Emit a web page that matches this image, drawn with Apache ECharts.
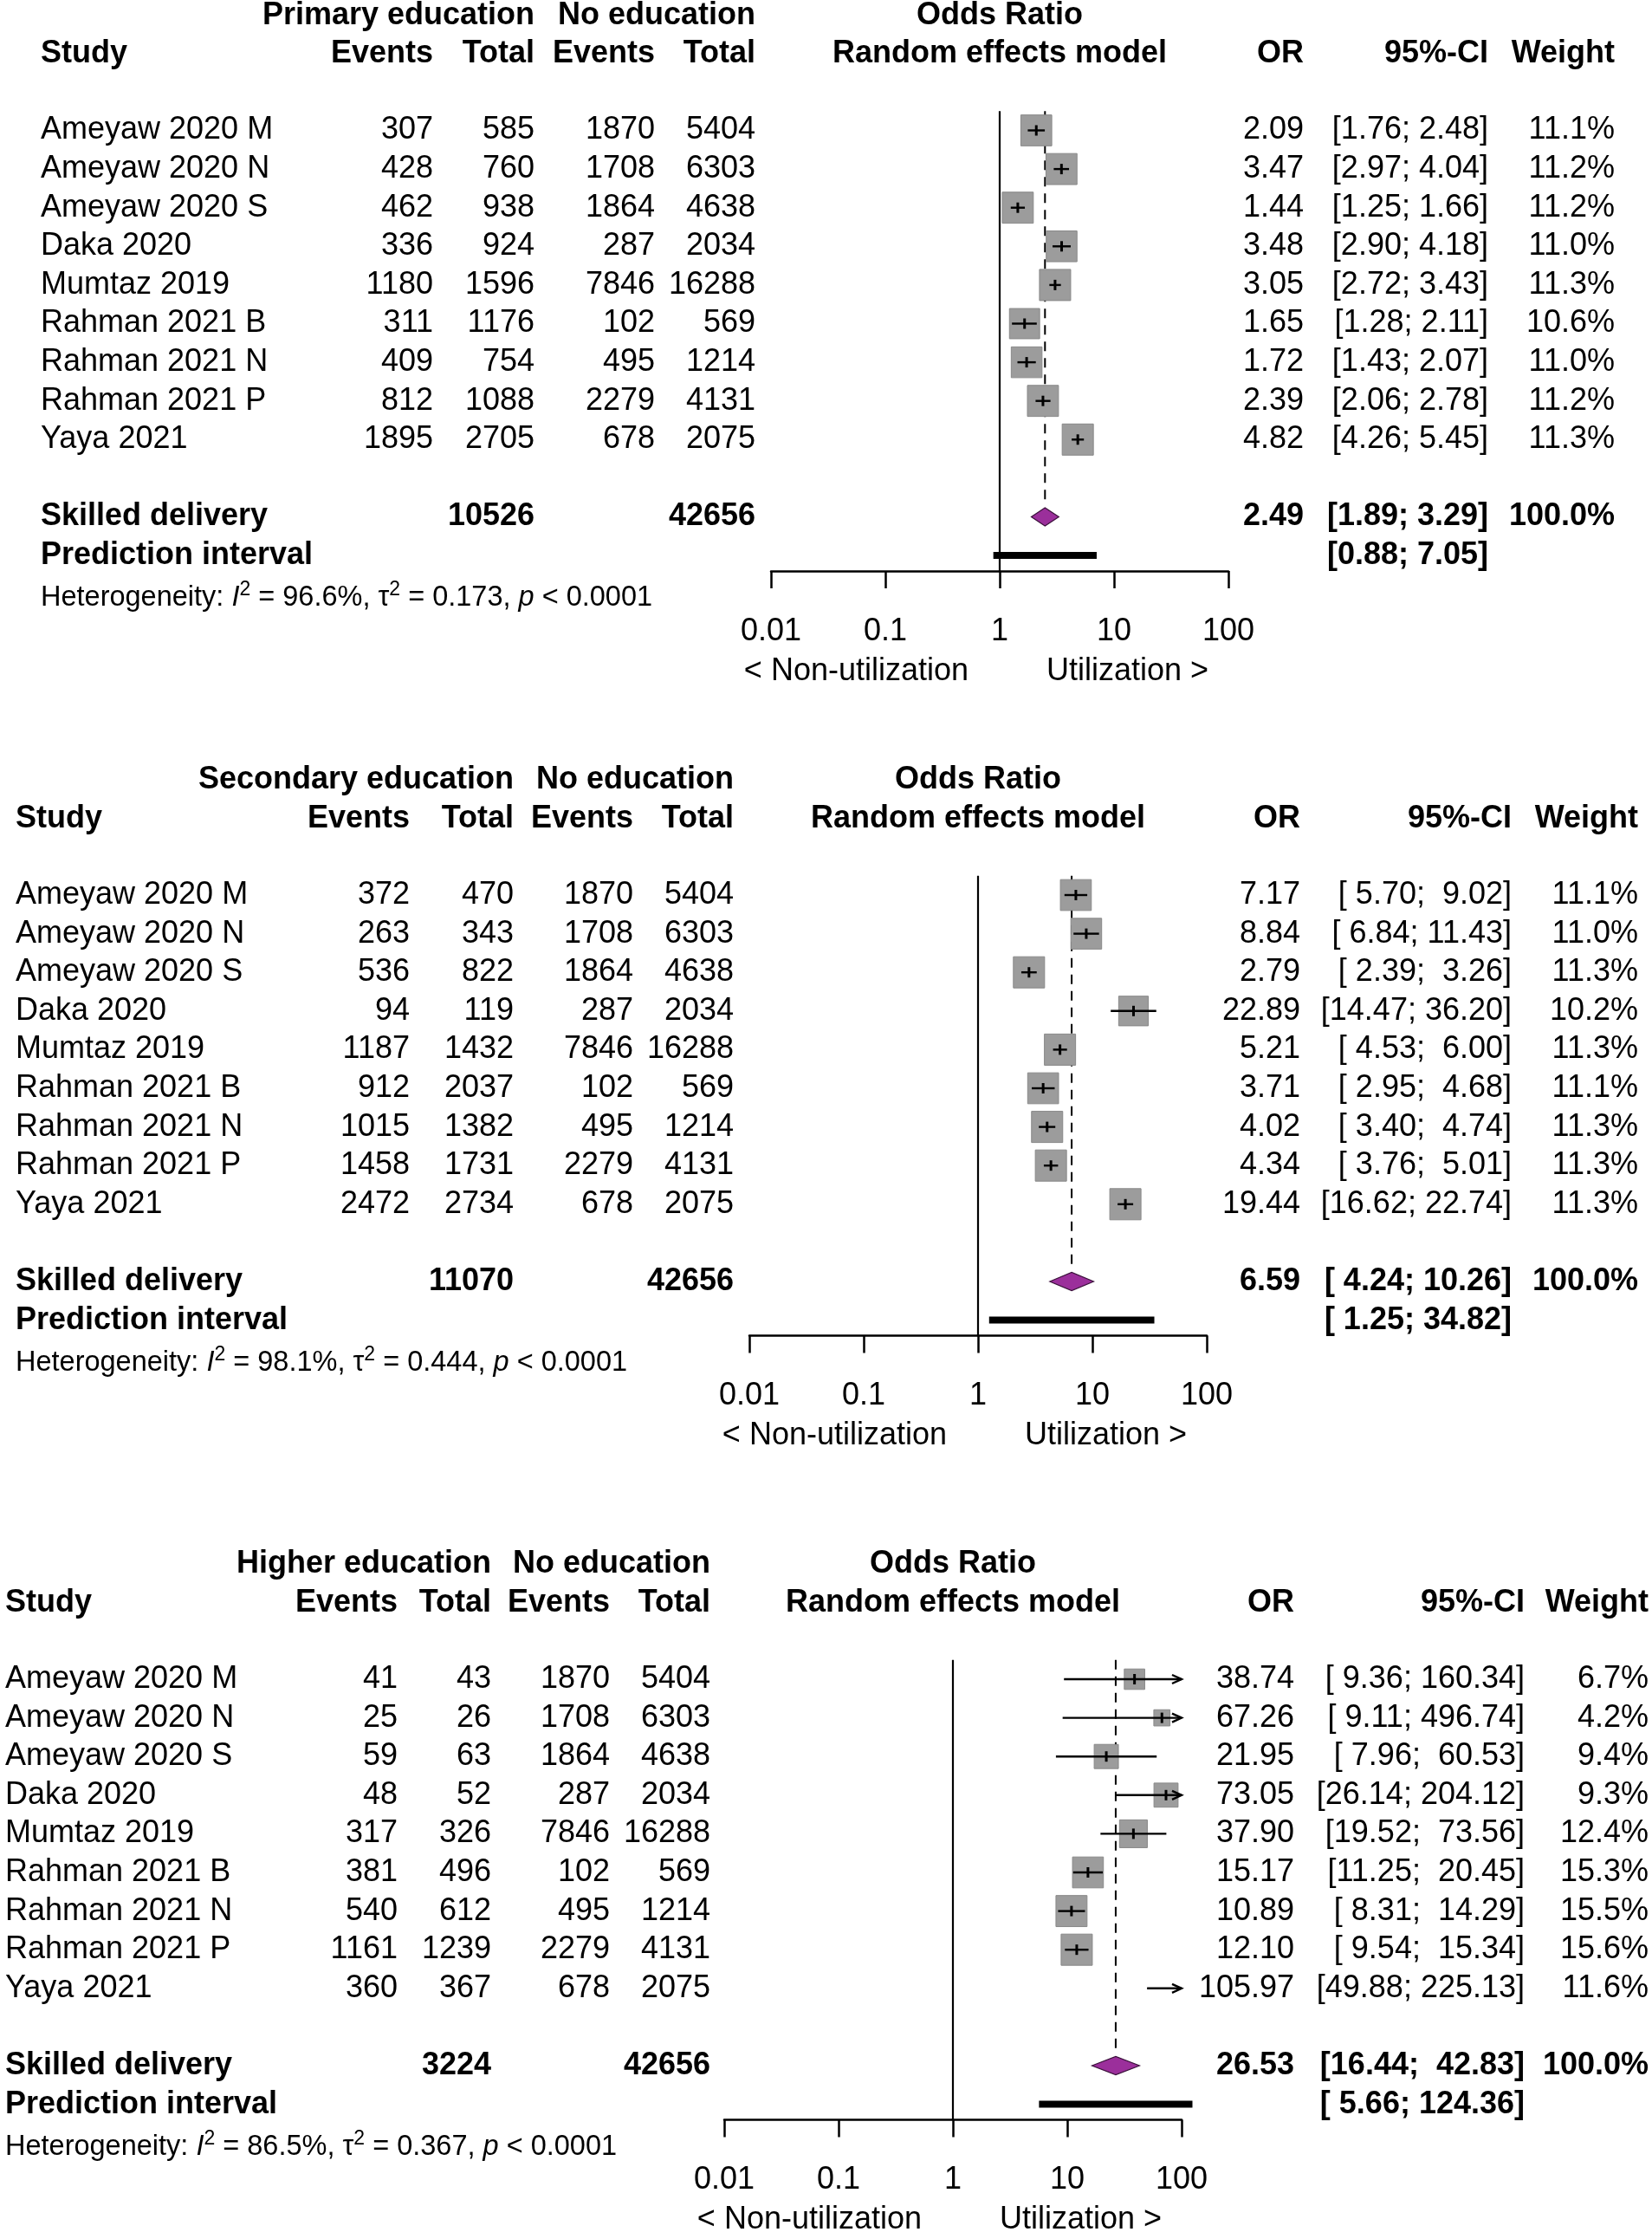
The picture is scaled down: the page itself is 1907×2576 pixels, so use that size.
<!DOCTYPE html>
<html><head><meta charset="utf-8">
<script src="https://cdn.jsdelivr.net/npm/echarts@6/dist/echarts.min.js"></script>
<style>html,body{margin:0;padding:0;background:#fff}#chart{width:1907px;height:2576px;background:#fff}</style>
</head><body><div id="chart"></div>
<script>
// ---------------- data ----------------
const studies = ["Ameyaw 2020 M","Ameyaw 2020 N","Ameyaw 2020 S","Daka 2020","Mumtaz 2019","Rahman 2021 B","Rahman 2021 N","Rahman 2021 P","Yaya 2021"];
const noEduEvents = [1870,1708,1864,287,7846,102,495,2279,678];
const noEduTotals = [5404,6303,4638,2034,16288,569,1214,4131,2075];

const primEvents = [307,428,462,336,1180,311,409,812,1895];
const primTotals = [585,760,938,924,1596,1176,754,1088,2705];
const primOR = [2.09,3.47,1.44,3.48,3.05,1.65,1.72,2.39,4.82];
const primLo = [1.76,2.97,1.25,2.90,2.72,1.28,1.43,2.06,4.26];
const primHi = [2.48,4.04,1.66,4.18,3.43,2.11,2.07,2.78,5.45];
const primWeight = [11.1,11.2,11.2,11.0,11.3,10.6,11.0,11.2,11.3];
const primSummary = [2.49,1.89,3.29];
const primPI = [0.88,7.05];
const primHet = ["96.6%","0.173"];

const secEvents = [372,263,536,94,1187,912,1015,1458,2472];
const secTotals = [470,343,822,119,1432,2037,1382,1731,2734];
const secOR = [7.17,8.84,2.79,22.89,5.21,3.71,4.02,4.34,19.44];
const secLo = [5.70,6.84,2.39,14.47,4.53,2.95,3.40,3.76,16.62];
const secHi = [9.02,11.43,3.26,36.20,6.00,4.68,4.74,5.01,22.74];
const secWeight = [11.1,11.0,11.3,10.2,11.3,11.1,11.3,11.3,11.3];
const secSummary = [6.59,4.24,10.26];
const secPI = [1.25,34.82];
const secHet = ["98.1%","0.444"];

const highEvents = [41,25,59,48,317,381,540,1161,360];
const highTotals = [43,26,63,52,326,496,612,1239,367];
const highOR = [38.74,67.26,21.95,73.05,37.90,15.17,10.89,12.10,105.97];
const highLo = [9.36,9.11,7.96,26.14,19.52,11.25,8.31,9.54,49.88];
const highHi = [160.34,496.74,60.53,204.12,73.56,20.45,14.29,15.34,225.13];
const highWeight = [6.7,4.2,9.4,9.3,12.4,15.3,15.5,15.6,11.6];
const highSummary = [26.53,16.44,42.83];
const highPI = [5.66,124.36];
const highHet = ["86.5%","0.367"];

const groupLabels = ["Primary education","Secondary education","Higher education"];
const axisTicks = [0.01,0.1,1,10,100];

// ---------------- layout ----------------
const FONT = "'Liberation Sans', Arial, Helvetica, sans-serif";
const FS = 36;
const ROWH = 44.6;
const layouts = [
  {row0:150.5, gridLeft:890, study:47, ev:500, tot:617, ev2:756, tot2:872, or:1505, ci:1718, w:1864},
  {row0:1033,  gridLeft:865, study:18, ev:473, tot:593, ev2:731, tot2:847, or:1501, ci:1745, w:1891},
  {row0:1938,  gridLeft:836, study:6,  ev:459, tot:567, ev2:704, tot2:820, or:1494, ci:1760, w:1903}
];
const DECADE = 132;
const XMIN = axisTicks[0], XMAX = axisTicks[axisTicks.length-1];

const panels = [
  {label:groupLabels[0], ev:primEvents, tot:primTotals, or:primOR, lo:primLo, hi:primHi, w:primWeight, sum:primSummary, pi:primPI, het:primHet},
  {label:groupLabels[1], ev:secEvents, tot:secTotals, or:secOR, lo:secLo, hi:secHi, w:secWeight, sum:secSummary, pi:secPI, het:secHet},
  {label:groupLabels[2], ev:highEvents, tot:highTotals, or:highOR, lo:highLo, hi:highHi, w:highWeight, sum:highSummary, pi:highPI, het:highHet}
];

function fmt(v){ return v.toFixed(2); }
function pad(s,n){ while(s.length<n) s=' '+s; return s; }

const grids=[], xAxes=[], yAxes=[], series=[];

panels.forEach((p, k) => {
  const L = layouts[k];
  const loAll = p.lo.concat([p.sum[1], p.pi[0]]).map(fmt);
  const hiAll = p.hi.concat([p.sum[2], p.pi[1]]).map(fmt);
  const loW = Math.max(...loAll.map(s=>s.length));
  const hiW = Math.max(...hiAll.map(s=>s.length));
  const ciStr = (a,b) => '[' + pad(fmt(a),loW) + '; ' + pad(fmt(b),hiW) + ']';
  const maxW = Math.max(...p.w);
  const sumEv = p.tot.reduce((a,b)=>a+b,0);
  const sumNo = noEduTotals.reduce((a,b)=>a+b,0);

  grids.push({left:L.gridLeft, width:DECADE*4, top:L.row0 - 0.5*ROWH, height:11.9*ROWH, containLabel:false});
  xAxes.push({
    type:'log', logBase:10, gridIndex:k, min:XMIN, max:XMAX, splitNumber:4, position:'bottom',
    axisLine:{show:true, onZero:false, lineStyle:{color:'#000', width:2.5}},
    axisTick:{show:true, inside:false, length:20, lineStyle:{color:'#000', width:2.5}},
    axisLabel:{show:true, margin:52, fontSize:FS, fontFamily:FONT, color:'#000', showMinLabel:true, showMaxLabel:true,
      formatter: v => String(+(+v).toPrecision(3))},
    splitLine:{show:false}
  });
  yAxes.push({type:'value', gridIndex:k, inverse:true, min:-0.5, max:11.4, show:false});

  // reference lines (solid at 1, dashed at summary estimate)
  series.push({
    type:'custom', xAxisIndex:k, yAxisIndex:k, z:1, silent:true, clip:false,
    data:[[1, p.sum[0]]],
    renderItem:(params, api) => {
      const top = api.coord([1,-0.5])[1];
      const bot = api.coord([1,11.4])[1];
      const xr = api.coord([api.value(0),0])[0];
      const xs = api.coord([api.value(1),0])[0];
      const yd = api.coord([1,9.62])[1];
      return {type:'group', children:[
        {type:'line', shape:{x1:xr,y1:top,x2:xr,y2:bot}, style:{stroke:'#000', lineWidth:2.2}},
        {type:'line', shape:{x1:xs,y1:top,x2:xs,y2:yd}, style:{stroke:'#000', lineWidth:2, lineDash:[11,8]}}
      ]};
    }
  });

  // study squares and CIs
  series.push({
    type:'custom', xAxisIndex:k, yAxisIndex:k, z:2, silent:true, clip:false,
    encode:{x:1, y:0},
    data: studies.map((s,i)=>[i, p.or[i], p.lo[i], p.hi[i], p.w[i]]),
    renderItem:(params, api) => {
      const row=api.value(0), or=api.value(1), lo=api.value(2), hi=api.value(3), w=api.value(4);
      const y = api.coord([1,row])[1];
      const ch=[];
      const inside = or>=XMIN && or<=XMAX;
      let cx=0;
      if (inside){
        cx = api.coord([or,row])[0];
        const sz = 36*Math.sqrt(w/maxW);
        ch.push({type:'rect', shape:{x:cx-sz/2, y:y-sz/2, width:sz, height:sz}, style:{fill:'#9c9c9c', stroke:'#888', lineWidth:1}});
      }
      const x1 = api.coord([Math.max(lo,XMIN),row])[0];
      const x2 = api.coord([Math.min(hi,XMAX),row])[0];
      ch.push({type:'line', shape:{x1:x1,y1:y,x2:x2,y2:y}, style:{stroke:'#000', lineWidth:2.4}});
      if (hi>XMAX){
        ch.push({type:'polyline', shape:{points:[[x2-11,y-5],[x2,y],[x2-11,y+5]]}, style:{stroke:'#000', lineWidth:2.4, fill:null}});
      }
      if (inside){
        ch.push({type:'line', shape:{x1:cx,y1:y-6,x2:cx,y2:y+6}, style:{stroke:'#000', lineWidth:3}});
      }
      return {type:'group', children:ch};
    }
  });

  // summary diamond and prediction interval
  series.push({
    type:'custom', xAxisIndex:k, yAxisIndex:k, z:3, silent:true, clip:false,
    encode:{x:1, y:0},
    data:[[10, p.sum[0], p.sum[1], p.sum[2], p.pi[0], p.pi[1]]],
    renderItem:(params, api) => {
      const row=api.value(0);
      const y = api.coord([1,row])[1];
      const xo = api.coord([api.value(1),row])[0];
      const xl = api.coord([api.value(2),row])[0];
      const xh = api.coord([api.value(3),row])[0];
      const yp = api.coord([1,row+1])[1];
      const pl = api.coord([api.value(4),row])[0];
      const ph = api.coord([api.value(5),row])[0];
      const h = 10.5;
      return {type:'group', children:[
        {type:'polygon', shape:{points:[[xl,y],[xo,y-h],[xh,y],[xo,y+h]]}, style:{fill:'#9b2f9b', stroke:'#3a103a', lineWidth:1.2}},
        {type:'line', shape:{x1:pl,y1:yp,x2:ph,y2:yp}, style:{stroke:'#000', lineWidth:8, lineCap:'butt'}}
      ]};
    }
  });

  // table text
  series.push({
    type:'custom', xAxisIndex:k, yAxisIndex:k, z:4, silent:true, clip:false,
    data:[[1,0]],
    renderItem:(params, api) => {
      const Y = r => api.coord([1,r])[1];
      const refX = api.coord([1,0])[0];
      const t = (x,y,text,align,bold,size) => ({type:'text', x:x, y:y, style:{text:text, fill:'#000', font:(bold?'bold ':'')+(size||FS)+'px '+FONT, align:align, verticalAlign:'middle'}});
      const ch=[];
      const h1=Y(-2.98), h2=Y(-1.98);
      ch.push(t(L.tot,h1,p.label,'right',true));
      ch.push(t(L.tot2,h1,'No education','right',true));
      ch.push(t(refX,h1,'Odds Ratio','center',true));
      ch.push(t(L.study,h2,'Study','left',true));
      ch.push(t(L.ev,h2,'Events','right',true));
      ch.push(t(L.tot,h2,'Total','right',true));
      ch.push(t(L.ev2,h2,'Events','right',true));
      ch.push(t(L.tot2,h2,'Total','right',true));
      ch.push(t(refX,h2,'Random effects model','center',true));
      ch.push(t(L.or,h2,'OR','right',true));
      ch.push(t(L.ci,h2,'95%-CI','right',true));
      ch.push(t(L.w,h2,'Weight','right',true));
      studies.forEach((s,i)=>{
        const y=Y(i);
        ch.push(t(L.study,y,s,'left'));
        ch.push(t(L.ev,y,String(p.ev[i]),'right'));
        ch.push(t(L.tot,y,String(p.tot[i]),'right'));
        ch.push(t(L.ev2,y,String(noEduEvents[i]),'right'));
        ch.push(t(L.tot2,y,String(noEduTotals[i]),'right'));
        ch.push(t(L.or,y,fmt(p.or[i]),'right'));
        ch.push(t(L.ci,y,ciStr(p.lo[i],p.hi[i]),'right'));
        ch.push(t(L.w,y,p.w[i].toFixed(1)+'%','right'));
      });
      const ys=Y(10);
      ch.push(t(L.study,ys,'Skilled delivery','left',true));
      ch.push(t(L.tot,ys,String(sumEv),'right',true));
      ch.push(t(L.tot2,ys,String(sumNo),'right',true));
      ch.push(t(L.or,ys,fmt(p.sum[0]),'right',true));
      ch.push(t(L.ci,ys,ciStr(p.sum[1],p.sum[2]),'right',true));
      ch.push(t(L.w,ys,'100.0%','right',true));
      const yp=Y(11);
      ch.push(t(L.study,yp,'Prediction interval','left',true));
      ch.push(t(L.ci,yp,ciStr(p.pi[0],p.pi[1]),'right',true));
      const yh=Y(12.1);
      const base={fontSize:32.5, fontFamily:FONT, fill:'#000', color:'#000', lineHeight:42, verticalAlign:'middle'};
      ch.push({type:'text', x:L.study, y:yh, style:{
        text:'{n|Heterogeneity: }{i|I}{s|2}{n| = '+p.het[0]+', τ}{s|2}{n| = '+p.het[1]+', }{i|p}{n| < 0.0001}',
        align:'left', verticalAlign:'middle', fill:'#000', font:'32.5px '+FONT,
        rich:{
          n:base,
          i:Object.assign({}, base, {fontStyle:'italic'}),
          s:{fontSize:23, fontFamily:FONT, fill:'#000', color:'#000', lineHeight:23, verticalAlign:'top'}
        }
      }});
      const yn=Y(14);
      ch.push(t(refX-36,yn,'< Non-utilization','right'));
      ch.push(t(refX+54,yn,'Utilization >','left'));
      return {type:'group', children:ch};
    }
  });
});

const chart = echarts.init(document.getElementById('chart'), null, {renderer:'canvas'});
chart.setOption({
  backgroundColor:'#ffffff',
  animation:false,
  grid:grids, xAxis:xAxes, yAxis:yAxes, series:series
});
</script>
</body></html>
